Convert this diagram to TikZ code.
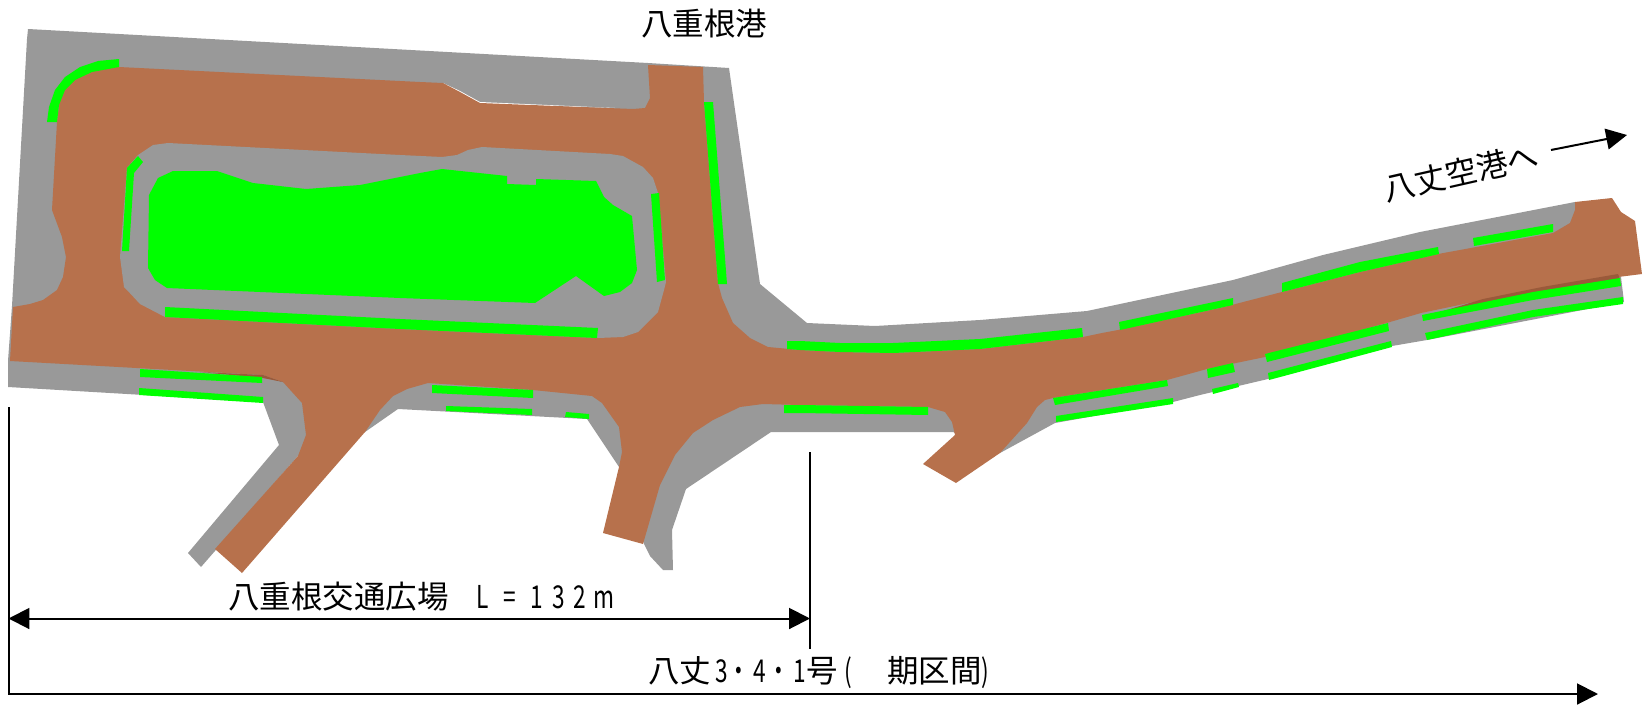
\documentclass[tikz,border=0pt]{standalone}
\usepackage{fontspec}
\usetikzlibrary{arrows.meta}
\newfontfamily\jpfont{Noto Sans CJK JP}
\newfontfamily\jpnarrowb[FakeStretch=0.72]{Noto Sans CJK JP}
\definecolor{paving}{HTML}{999999}
\definecolor{road}{HTML}{B7714C}
\definecolor{roaddark}{HTML}{9A5A3A}
\definecolor{plant}{HTML}{00FF00}
\tikzset{
  pav/.style={fill=paving},
  rd/.style={fill=road},
  rddk/.style={fill=roaddark},
  grn/.style={fill=plant},
  label/.style={inner sep=0pt,font=\fontsize{15.75pt}{18pt}\selectfont\jpfont,text=black},
  dim/.style={line width=1pt,draw=black},
  dimarrow/.style={dim,{Triangle[length=10.4pt,width=10.4pt]}-{Triangle[length=10.4pt,width=10.4pt]}},
  endarrow/.style={dim,-{Triangle[length=10.4pt,width=10.4pt]}}
}
\begin{document}
\begin{tikzpicture}[x=0.5pt,y=-0.5pt]
\useasboundingbox (0,0) rectangle (1651,707);
% paving
\path[pav] (28,29)--(648,63)--(729,68)--(760,284)--(807,323)--(875,326)--(980,320)--(1087,311)--(1233,280)--(1323,255)--(1420,232)--(1575,202)--(1600,240)--(1621,277)--(1624,302)--(1427,340)--(1392,346)--(1268,379)--(1200,395)--(1173,402)--(1055,423)--(1000,453)--(953,432)--(771,432)--(686,489)--(672,530)--(673,570)--(663,570)--(650,556)--(644,544)--(619,467)--(587,419)--(398,409)--(365,432)--(298,456)--(201,567)--(188,553)--(279,445)--(263,402)--(8,387)--(8,361)--(12,306)--(27,39)--cycle;
% white slit along the north carriageway
\path[fill=white] (443,83)--(460,91)--(480,102)--(615,108)--(480,104)--(458,93)--cycle;
% carriageway
\path[rd] (119,67)--(420,82)--(443,83)--(460,92)--(480,103)--(633,109)--(645,108)--(650,98)--(648,65)--(703,67)--(704,102)--(718,283)--(722,298)--(733,323)--(750,338)--(768,347)--(800,350)--(840,352)--(893,353)--(980,349)--(1083,337)--(1102,333)--(1118,330)--(1220,308)--(1282,292)--(1360,272)--(1438,254)--(1553,233)--(1570,223)--(1575,210)--(1575,202)--(1612,198)--(1621,212)--(1635,221)--(1642,274)--(1618,277)--(1542,288)--(1483,300)--(1421,313)--(1390,322)--(1265,357)--(1207,369)--(1167,380)--(1053,398)--(1045,400)--(1037,407)--(1027,423)--(1000,453)--(956,483)--(923,464)--(955,435)--(952,422)--(945,412)--(928,407)--(800,405)--(763,404)--(740,407)--(713,420)--(693,433)--(675,455)--(660,485)--(643,544)--(603,533)--(619,467)--(622,452)--(619,427)--(602,403)--(592,396)--(533,390)--(428,383)--(407,389)--(393,396)--(380,410)--(365,432)--(242,573)--(215,549)--(298,456)--(306,435)--(302,403)--(283,382)--(263,375)--(10,361)--(13,307)--(30,304)--(43,300)--(57,290)--(63,277)--(66,257)--(62,237)--(52,210)--(57,122)--(60,97)--(67,83)--(80,73)--(97,68)--cycle;
% darker slivers
\path[rddk] (1618,274)--(1620,279)--(1533,293)--(1440,312)--(1483,299)--(1542,287)--cycle;
\path[rddk] (200,372)--(263,375)--(283,382)--(263,378)--cycle;
% central island
\path[pav] (168,143)--(153,145)--(138,155)--(127,168)--(120,257)--(124,287)--(127,290)--(140,304)--(165,317)--(400,329)--(598,338)--(623,337)--(638,332)--(658,312)--(664,290)--(666,282)--(658,193)--(653,178)--(643,167)--(623,156)--(610,154)--(482,147)--(468,150)--(457,155)--(442,157)--(400,155)--cycle;
% planting in the island
\path[grn] (173,171)--(217,171)--(253,183)--(306,189)--(360,185)--(420,173)--(442,169)--(507,176)--(507,184)--(536,185)--(536,179)--(596,181)--(604,197)--(613,205)--(632,216)--(637,270)--(632,283)--(620,292)--(604,296)--(576,276)--(535,303)--(400,298)--(167,288)--(155,280)--(148,268)--(149,195)--(158,178)--cycle;
% planting strips
\path[grn] (119,59)--(98,61)--(80,67)--(65,77)--(55,90)--(49,107)--(47,122)--(57,122)--(59,105)--(65,90)--(75,80)--(92,72)--(119,67)--cycle;
\path[grn] (138,156)--(143,162)--(134,173)--(129,251)--(122,251)--(127,168)--cycle;
\path[grn] (165,307)--(400,319)--(598,328)--(597,338)--(400,329)--(165,317)--cycle;
\path[grn] (651,194)--(659,193)--(665,280)--(657,282)--cycle;
\path[grn] (704,102)--(713,102)--(727,284)--(718,284)--cycle;
\path[grn] (140,369)--(262,377)--(262,383)--(140,377)--cycle;
\path[grn] (139,388)--(263,397)--(263,403)--(139,395)--cycle;
\path[grn] (432,385)--(533,390)--(533,398)--(432,393)--cycle;
\path[grn] (446,406)--(532,409)--(532,415)--(446,411)--cycle;
\path[grn] (566,412)--(589,414)--(589,419)--(565,417)--cycle;
\path[grn] (787,341)--(800,341)--(840,343)--(893,343)--(980,339)--(1082,328)--(1083,337)--(980,349)--(893,353)--(840,352)--(800,350)--(787,349)--cycle;
\path[grn] (784,405)--(800,405)--(928,407)--(928,415)--(800,413)--(784,413)--cycle;
\path[grn] (1119,322)--(1233,298)--(1233,305)--(1120,330)--cycle;
\path[grn] (1282,283)--(1360,262)--(1438,247)--(1439,254)--(1360,272)--(1282,292)--cycle;
\path[grn] (1473,238)--(1553,224)--(1553,232)--(1474,246)--cycle;
\path[grn] (1053,398)--(1167,380)--(1168,386)--(1055,405)--cycle;
\path[grn] (1056,416)--(1173,398)--(1173,404)--(1056,422)--cycle;
\path[grn] (1207,369)--(1233,363)--(1235,372)--(1208,378)--cycle;
\path[grn] (1212,389)--(1238,383)--(1239,387)--(1213,394)--cycle;
\path[grn] (1265,354)--(1388,323)--(1389,331)--(1267,362)--cycle;
\path[grn] (1268,373)--(1391,341)--(1392,347)--(1269,380)--cycle;
\path[grn] (1422,315)--(1533,292)--(1620,278)--(1621,286)--(1533,300)--(1423,321)--cycle;
\path[grn] (1425,333)--(1533,310)--(1623,297)--(1623,304)--(1533,317)--(1427,340)--cycle;
% labels
\node[label] (port) at (704,24) {八重根港};
\node[label,rotate=12.8] (airport) at (1461,172) {八丈空港へ};
\node[label,anchor=west] (plaza) at (228,597) {八重根交通広場};
\node[label,anchor=west] (plazalen) at (476,597) {\jpnarrowb L\hspace{7.5pt}=\hspace{7pt}1\hspace{5pt}3\hspace{4pt}2\hspace{3.8pt}m};
\node[label,anchor=west] (section) at (648,673) {八丈{\jpnarrowb\hspace{1.85pt}3・\hspace{1.65pt}4\hspace{0.65pt}・\hspace{1.65pt}1}号{\jpnarrowb\hspace{3.5pt}(\hspace{17.5pt}}期区間{\jpnarrowb)}};
% dimensions
\coordinate (a1) at (1551,150);
\coordinate (a2) at (1627,135);
\draw[endarrow] (a1) -- (a2);
\coordinate (l1) at (8.5,407);
\coordinate (l2) at (8.5,694);
\coordinate (l3) at (1598,694);
\draw[endarrow] (l1) -- (l2) -- (l3);
\coordinate (v1) at (810,452);
\coordinate (v2) at (810,649);
\draw[dim] (v1) -- (v2);
\coordinate (h1) at (8.5,618.5);
\coordinate (h2) at (810,618.5);
\draw[dimarrow] (h1) -- (h2);
\end{tikzpicture}
\end{document}
